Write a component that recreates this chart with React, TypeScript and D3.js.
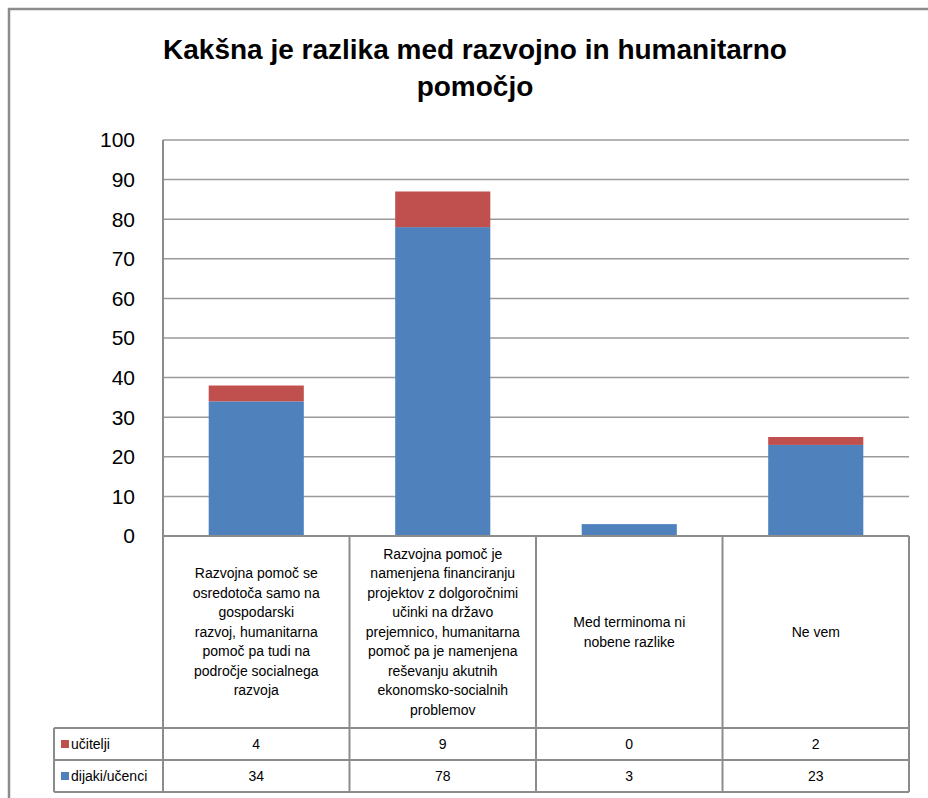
import React from "react";
import * as d3 from "d3";

const width = 928;
const height = 798;
const plot = { left: 163, right: 909, top: 140, bottom: 536 };
const tableRows = { cat: 728, row1: 760, row2: 792 };
const legendLeft = 54;

const title = ["Kakšna je razlika med razvojno in humanitarno", "pomočjo"];

// category labels, already wrapped like in the original table
const categories = [
  ["Razvojna pomoč se", "osredotoča samo na", "gospodarski", "razvoj, humanitarna", "pomoč pa tudi na", "področje socialnega", "razvoja"],
  ["Razvojna pomoč je", "namenjena financiranju", "projektov z dolgoročnimi", "učinki na državo", "prejemnico, humanitarna", "pomoč pa je namenjena", "reševanju akutnih", "ekonomsko-socialnih", "problemov"],
  ["Med terminoma ni", "nobene razlike"],
  ["Ne vem"],
];
const ucitelji = [4, 9, 0, 2];
const dijaki = [34, 78, 3, 23];
const seriesNames = ["učitelji", "dijaki/učenci"];
const colors = { ucitelji: "#C0504D", dijaki: "#4F81BD" };
const yTicks = [0, 10, 20, 30, 40, 50, 60, 70, 80, 90, 100];

const font = "'Liberation Sans', Arial, sans-serif";
const gridColor = "#9a9a9a";
const tableColor = "#8c8c8c";

export default function App() {
  const idx = categories.map((_, i) => i);
  const x = d3.scaleBand<number>().domain(idx).range([plot.left, plot.right]).padding(0);
  const y = d3.scaleLinear().domain([0, 100]).range([plot.bottom, plot.top]);
  const barW = x.bandwidth() * 0.51;

  const rows = idx.map((i) => ({ dijaki: dijaki[i], ucitelji: ucitelji[i] }));
  const stacked = d3.stack<any>().keys(["dijaki", "ucitelji"])(rows);

  const catMid = (plot.bottom + tableRows.cat) / 2;
  const lineH = 19.5;

  return (
    <svg width={width} height={height} style={{ position: "absolute", left: 0, top: 0, background: "#fff" }} fontFamily={font}>
      <rect x={9} y={9} width={1000} height={1000} fill="#fff" stroke={tableColor} strokeWidth={2.5} />

      {title.map((t, i) => (
        <text key={i} x={475} y={59 + i * 37} textAnchor="middle" fontSize={28} fontWeight="bold" fill="#000">
          {t}
        </text>
      ))}

      {/* gridlines + y labels */}
      {yTicks.map((t) => (
        <g key={t}>
          {t > 0 && (
            <line x1={plot.left} x2={plot.right} y1={y(t)} y2={y(t)} stroke={gridColor} strokeWidth={1.5} />
          )}
          <text x={135} y={y(t)} dy="0.35em" textAnchor="end" fontSize={21} fill="#000">
            {t}
          </text>
        </g>
      ))}

      {/* bars */}
      {stacked.map((s) => (
        <g key={s.key} fill={(colors as any)[s.key]}>
          {s.map((d, i) =>
            d[1] - d[0] > 0 ? (
              <rect key={i} x={x(i)! + (x.bandwidth() - barW) / 2} y={y(d[1])} width={barW} height={y(d[0]) - y(d[1])} />
            ) : null
          )}
        </g>
      ))}

      {/* data table */}
      <g stroke={tableColor} strokeWidth={2} fill="none">
        <line x1={plot.left} x2={plot.left} y1={plot.top} y2={tableRows.row2} />
        <line x1={plot.left} x2={plot.right} y1={plot.bottom} y2={plot.bottom} />
        <line x1={legendLeft} x2={plot.right} y1={tableRows.cat} y2={tableRows.cat} />
        <line x1={legendLeft} x2={plot.right} y1={tableRows.row1} y2={tableRows.row1} />
        <line x1={legendLeft} x2={plot.right} y1={tableRows.row2} y2={tableRows.row2} />
        <line x1={legendLeft} x2={legendLeft} y1={tableRows.cat} y2={tableRows.row2} />
        {idx.map((i) => (
          <line key={i} x1={x(i)! + x.bandwidth()} x2={x(i)! + x.bandwidth()} y1={plot.bottom} y2={tableRows.row2} />
        ))}
      </g>

      {categories.map((lines, i) => (
        <text key={i} textAnchor="middle" fontSize={14} fill="#000">
          {lines.map((l, j) => (
            <tspan key={j} x={x(i)! + x.bandwidth() / 2} y={catMid + (j - (lines.length - 1) / 2) * lineH} dy="0.35em">
              {l}
            </tspan>
          ))}
        </text>
      ))}

      {[ucitelji, dijaki].map((vals, r) => {
        const yc = r === 0 ? (tableRows.cat + tableRows.row1) / 2 : (tableRows.row1 + tableRows.row2) / 2;
        return (
          <g key={r}>
            <rect x={61} y={yc - 4} width={8} height={8} fill={r === 0 ? colors.ucitelji : colors.dijaki} />
            <text x={71} y={yc} dy="0.35em" fontSize={14} fill="#000">
              {seriesNames[r]}
            </text>
            {vals.map((v, i) => (
              <text key={i} x={x(i)! + x.bandwidth() / 2} y={yc} dy="0.35em" textAnchor="middle" fontSize={14} fill="#000">
                {v}
              </text>
            ))}
          </g>
        );
      })}
    </svg>
  );
}
